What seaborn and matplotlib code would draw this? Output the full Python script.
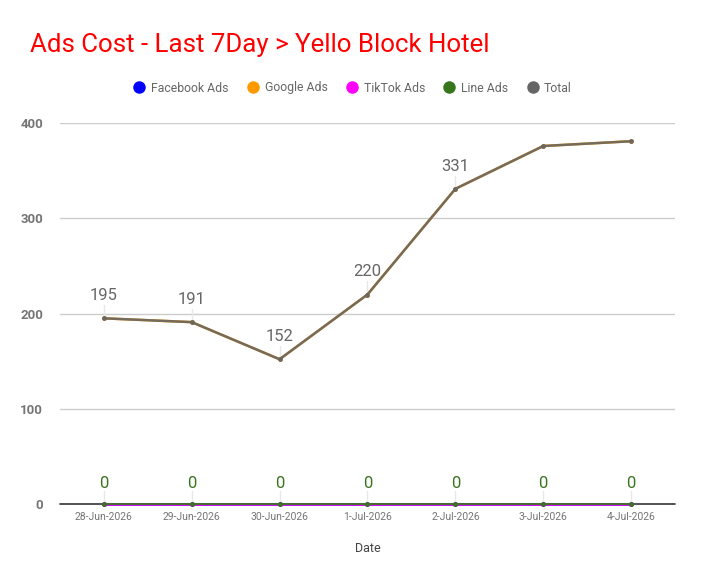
import matplotlib
matplotlib.use("Agg")
import matplotlib.pyplot as plt
import seaborn as sns
import pandas as pd
import numpy as np

dates = ["28-Jun-2026", "29-Jun-2026", "30-Jun-2026", "1-Jul-2026", "2-Jul-2026", "3-Jul-2026", "4-Jul-2026"]
facebook_ads = [0, 0, 0, 0, 0, 0, 0]
google_ads = [195, 191, 152, 220, 331, 376, 381]
tiktok_ads = [0, 0, 0, 0, 0, 0, 0]
line_ads = [0, 0, 0, 0, 0, 0, 0]
total = [195, 191, 152, 220, 331, 376, 381]
total_labels_shown = [True, True, True, True, True, False, False]
y_ticks = [0, 100, 200, 300, 400]

series_names = ["Facebook Ads", "Google Ads", "TikTok Ads", "Line Ads", "Total"]
colors = {"Facebook Ads": "#0000ff", "Google Ads": "#ff9900", "TikTok Ads": "#ff00ff",
          "Line Ads": "#38761d", "Total": "#666666"}

sns.set_theme(style="white")
plt.rcParams['font.family'] = ['Roboto', 'DejaVu Sans']

rows = []
for name, vals in zip(series_names, [facebook_ads, google_ads, tiktok_ads, line_ads, total]):
    for i, (d, v) in enumerate(zip(dates, vals)):
        rows.append({"Date": d, "idx": i, "Series": name, "Value": v})
df = pd.DataFrame(rows)

fig = plt.figure(figsize=(7.04, 5.85), dpi=100)
ax = fig.add_axes([0.085, 0.1385, 0.874, 0.651])

# grid lines
for t in y_ticks[1:]:
    ax.axhline(t, color="#cccccc", lw=1, zorder=0)
ax.axhline(0, color="#333333", lw=1.2, zorder=1, clip_on=False)

order_draw = ["Facebook Ads", "TikTok Ads", "Google Ads", "Total", "Line Ads"]
alphas = {"Total": 0.9}
widths = {"Line Ads": 1.3}
for z, name in enumerate(order_draw):
    sub = df[df.Series == name]
    sns.lineplot(data=sub, x="idx", y="Value", ax=ax, color=colors[name],
                 lw=widths.get(name, 1.8), alpha=alphas.get(name, 1.0), marker="o", markersize=3.5,
                 markeredgewidth=0, zorder=2 + z, legend=False, clip_on=False)

# data labels
for i, v in enumerate(total):
    if total_labels_shown[i]:
        ax.plot([i, i], [v + 3, v + 14], color="#e8e8e8", lw=1, zorder=1)
        ax.text(i, v + 16, str(v), ha="center", va="bottom", fontsize=12, color="#666666", zorder=10)
for i, v in enumerate(line_ads):
    ax.plot([i, i], [v + 3, v + 14], color="#e8e8e8", lw=1, zorder=1)
    ax.text(i, v + 14, str(v), ha="center", va="bottom", fontsize=12, color="#38761d", zorder=10)

ax.set_xlim(-0.5, 6.5)
ax.set_ylim(0, 400)
ax.set_xticks(range(len(dates)))
ax.set_xticklabels(dates, fontsize=7.5, color="#757575")
ax.set_yticks(y_ticks)
ax.set_yticklabels([str(t) for t in y_ticks], fontsize=9.5, color="#757575", fontweight="bold")
ax.tick_params(axis="both", length=0, pad=6)
ax.tick_params(axis="y", pad=12)
for s in ax.spines.values():
    s.set_visible(False)
ax.set_xlabel("Date", fontsize=9, color="#444444", labelpad=14)
ax.set_ylabel("")

fig.text(30 / 704, 1 - 45 / 585, "Ads Cost - Last 7Day > Yello Block Hotel", fontsize=18.6,
         color="#ff0000", ha="left", va="center")

from matplotlib.lines import Line2D
handles = [Line2D([0], [0], marker="o", color="w", markerfacecolor=colors[n], markersize=9,
                  markeredgewidth=0) for n in series_names]
fig.legend(handles, series_names, loc="center", bbox_to_anchor=(0.5, 1 - 88 / 585), ncol=5,
           frameon=False, fontsize=8.8, labelcolor="#666666", handletextpad=0.35,
           columnspacing=1.4, handlelength=1.2)

fig.savefig("out.png", dpi=100)
